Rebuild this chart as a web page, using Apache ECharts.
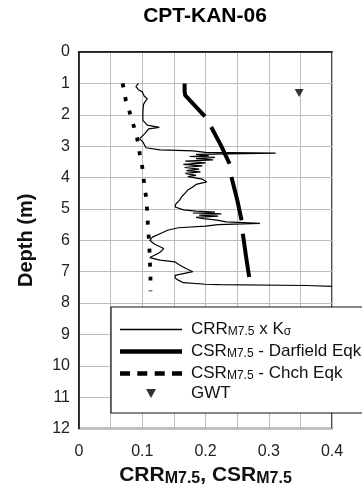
<!DOCTYPE html>
<html>
<head>
<meta charset="utf-8">
<script src="https://cdn.jsdelivr.net/npm/echarts@6/dist/echarts.min.js"></script>
<style>
html,body{margin:0;padding:0;background:#fff;}
#chart{width:362px;height:492px;}
</style>
</head>
<body>
<div id="chart"></div>
<script>
// ---- data ----
const chartTitle = 'CPT-KAN-06';
const xTickLabels = ['0', '0.1', '0.2', '0.3', '0.4'];
const yTickLabels = ['0','1','2','3','4','5','6','7','8','9','10','11','12'];

const crrDepth = [1.00,1.10,1.20,1.27,1.40,1.49,1.60,1.67,1.90,2.18,2.33,2.40,2.45,2.60,2.76,2.87,3.05,3.12,3.15,3.20,3.22,3.26,3.30,3.33,3.36,3.40,3.44,3.48,3.53,3.58,3.63,3.68,3.73,3.78,3.82,3.87,3.93,3.97,4.05,4.14,4.22,4.30,4.40,4.51,4.62,4.72,4.85,4.94,4.99,5.03,5.07,5.10,5.13,5.16,5.20,5.23,5.27,5.31,5.36,5.41,5.46,5.50,5.55,5.60,5.68,5.79,5.90,6.00,6.10,6.16,6.26,6.35,6.42,6.55,6.60,6.63,6.69,6.79,6.90,7.00,7.06,7.12,7.20,7.27,7.35,7.40,7.41,7.44,7.44,7.47,7.47];
const crrValue = [0.094,0.090,0.094,0.100,0.103,0.108,0.104,0.102,0.101,0.101,0.108,0.127,0.110,0.104,0.096,0.101,0.106,0.128,0.180,0.200,0.311,0.185,0.205,0.175,0.215,0.185,0.212,0.168,0.200,0.165,0.195,0.167,0.190,0.170,0.192,0.168,0.185,0.172,0.195,0.202,0.185,0.180,0.172,0.167,0.162,0.159,0.153,0.152,0.149,0.165,0.185,0.215,0.180,0.225,0.190,0.220,0.185,0.197,0.218,0.233,0.286,0.220,0.200,0.157,0.140,0.128,0.116,0.112,0.118,0.123,0.134,0.130,0.125,0.112,0.115,0.128,0.152,0.159,0.169,0.180,0.165,0.152,0.152,0.157,0.165,0.200,0.222,0.224,0.360,0.362,0.400];

// null = gap in the plotted curve
const darfieldDepth = [1.00,1.27,1.38,2.05,null,2.39,3.00,3.56,null,3.98,4.70,5.36,null,5.79,6.50,7.17];
const darfieldCSR   = [0.167,0.167,0.168,0.199,null,0.209,0.225,0.238,null,0.241,0.250,0.257,null,0.259,0.264,0.269];

const chchDepth = [1.00,1.54,1.91,2.39,2.76,3.24,3.66,4.19,4.62,5.10,5.57,6.10,6.63,7.17,7.62];
const chchCSR   = [0.069,0.074,0.080,0.087,0.092,0.096,0.100,0.103,0.106,0.108,0.109,0.111,0.112,0.113,0.113];

const gwtDepth = [1.31];
const gwtX = [0.348];

const legendLabels = {
  CRR: 'CRR{s|M7.5} x K{s|σ}',
  DAR: 'CSR{s|M7.5} - Darfield Eqk',
  CHCH: 'CSR{s|M7.5} - Chch Eqk',
  GWT: 'GWT'
};

// ---- build ----
const pairs = (xs, ys) => xs.map((x, i) => (x === null || ys[i] === null) ? ['-', '-'] : [x, ys[i]]);
const triPath = 'path://M0,0 L10,0 L5,9 Z';
// legend icon shapes (filled paths, aspect kept)
const iconThin = 'path://M0,0 L62,0 L62,1.3 L0,1.3 Z';
const iconThick = 'path://M0,0 L62,0 L62,4.5 L0,4.5 Z';
const iconDash = 'path://M0,0 L10,0 L10,4.5 L0,4.5 Z M17.3,0 L27.3,0 L27.3,4.5 L17.3,4.5 Z M34.7,0 L44.7,0 L44.7,4.5 L34.7,4.5 Z M52,0 L62,0 L62,4.5 L52,4.5 Z';

const chart = echarts.init(document.getElementById('chart'), null, {renderer: 'canvas'});
const FONT = '"Liberation Sans", Arial, sans-serif';

chart.setOption({
  animation: false,
  backgroundColor: '#fff',
  textStyle: {fontFamily: FONT},
  title: {
    text: chartTitle,
    left: 200,
    top: 1,
    textAlign: 'center',
    textStyle: {fontFamily: FONT, fontSize: 21, fontWeight: 'bold', color: '#000'}
  },
  grid: {
    left: 79, top: 52, width: 253, height: 377,
    show: true, borderColor: '#111', borderWidth: 1.5, backgroundColor: 'transparent'
  },
  xAxis: {
    type: 'value', min: 0, max: 0.4, interval: 0.05,
    position: 'bottom',
    axisLine: {show: true, lineStyle: {color: '#111', width: 1.5}},
    axisTick: {show: false},
    splitLine: {show: true, lineStyle: {color: '#bdbdbd', width: 1}},
    axisLabel: {
      margin: 15, fontSize: 16, color: '#222', fontFamily: FONT,
      formatter: v => {
        const k = Math.round(v * 100);
        return k % 10 === 0 ? xTickLabels[k / 10] : '';
      }
    },
    name: 'CRR{s|M7.5}, CSR{s|M7.5}',
    nameLocation: 'middle',
    nameGap: 34,
    nameTextStyle: {
      fontFamily: FONT, fontSize: 21, fontWeight: 'bold', color: '#111',
      rich: {
        s: {fontFamily: FONT, fontSize: 16, fontWeight: 'bold', color: '#111', verticalAlign: 'bottom', padding: [8, 0, 0, 0]}
      }
    }
  },
  yAxis: {
    type: 'value', min: 0, max: 12, interval: 1, inverse: true,
    axisLine: {show: true, lineStyle: {color: '#111', width: 1.5}},
    axisTick: {show: false},
    splitLine: {show: true, lineStyle: {color: '#bdbdbd', width: 1}},
    axisLabel: {
      margin: 9, fontSize: 16, color: '#222', fontFamily: FONT,
      formatter: v => yTickLabels[Math.round(v)]
    },
    name: 'Depth (m)',
    nameLocation: 'middle',
    nameGap: 43,
    nameTextStyle: {fontFamily: FONT, fontSize: 20, fontWeight: 'bold', color: '#111'}
  },
  legend: {
    orient: 'vertical',
    left: 111, top: 307,
    backgroundColor: '#fff',
    borderColor: '#111', borderWidth: 1.2, borderRadius: 0,
    padding: [12, 40, 11, 9],
    itemWidth: 62, itemHeight: 9, itemGap: 3,
    symbolKeepAspect: true,
    selectedMode: false,
    formatter: n => legendLabels[n],
    textStyle: {
      fontFamily: FONT, fontSize: 17, color: '#111', lineHeight: 17, padding: [0, 0, 0, 4],
      rich: {
        s: {fontFamily: FONT, fontSize: 12, color: '#111', verticalAlign: 'bottom', lineHeight: 17, padding: [7, 0, 0, 0]}
      }
    },
    data: [
      {name: 'CRR', icon: iconThin, itemStyle: {color: '#000', borderWidth: 0}},
      {name: 'DAR', icon: iconThick, itemStyle: {color: '#000', borderWidth: 0}},
      {name: 'CHCH', icon: iconDash, itemStyle: {color: '#000', borderWidth: 0}},
      {name: 'GWT', icon: triPath, itemStyle: {color: '#000', borderWidth: 0}}
    ]
  },
  series: [
    {
      name: 'CRR', type: 'line', data: pairs(crrValue, crrDepth),
      symbol: 'none', clip: true,
      lineStyle: {color: '#000', width: 1.2},
      itemStyle: {color: '#000'}
    },
    {
      name: 'DAR', type: 'line', data: pairs(darfieldCSR, darfieldDepth),
      symbol: 'none', connectNulls: false,
      lineStyle: {color: '#000', width: 4},
      itemStyle: {color: '#000'}
    },
    {
      name: 'CHCH', type: 'line', data: pairs(chchCSR, chchDepth),
      symbol: 'none',
      lineStyle: {color: '#000', width: 3.8, type: [4, 10]},
      itemStyle: {color: '#000'}
    },
    {
      name: 'GWT', type: 'scatter', data: pairs(gwtX, gwtDepth),
      symbol: triPath, symbolSize: [9, 8],
      itemStyle: {color: '#000'}
    }
  ]
});
</script>
</body>
</html>
